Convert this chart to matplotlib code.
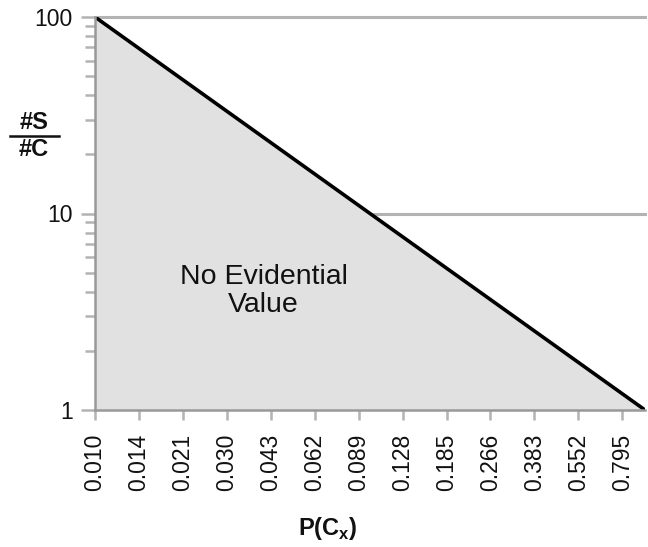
import matplotlib
matplotlib.use("Agg")
import matplotlib.pyplot as plt
from matplotlib.lines import Line2D

plt.rcParams['font.family'] = ['Liberation Sans', 'DejaVu Sans']
plt.rcParams['mathtext.fontset'] = 'custom'
plt.rcParams['mathtext.rm'] = 'Liberation Sans'
plt.rcParams['mathtext.bf'] = 'Liberation Sans:bold'

# Data
tick_values = [0.010, 0.0144, 0.0207, 0.0299, 0.0430, 0.0619, 0.0892,
               0.1284, 0.1849, 0.2662, 0.3834, 0.5521, 0.7950]
tick_labels = ["0.010", "0.014", "0.021", "0.030", "0.043", "0.062", "0.089",
               "0.128", "0.185", "0.266", "0.383", "0.552", "0.795"]
line_x = [0.010, 0.96]
line_y = [100, 1]
y_ticks = [1, 10, 100]
y_tick_labels = ["1", "10", "100"]

W, H = 648, 547
fig = plt.figure(figsize=(W / 100, H / 100), dpi=100)
ax = fig.add_axes([95 / W, 1 - 410 / H, 550 / W, 393 / H])

ax.set_xscale('log')
ax.set_yscale('log')
ax.set_xlim(line_x[0], line_x[-1])
ax.set_ylim(1, 100)

grid_c = '#b3b3b3'
spine_c = '#999999'
for yv in y_ticks[1:]:
    ax.axhline(yv, color=grid_c, lw=2.2, zorder=1, clip_on=False)

ax.fill_between(line_x, line_y, 1, color='#e1e1e1', zorder=2, lw=0)
ax.plot(line_x, line_y, color='black', lw=2.6, zorder=3, solid_capstyle='butt')

for s in ['top', 'right']:
    ax.spines[s].set_visible(False)
for s in ['left', 'bottom']:
    ax.spines[s].set_color(spine_c)
    ax.spines[s].set_linewidth(1.8)
    ax.spines[s].set_zorder(4)

ax.set_xticks(tick_values)
ax.set_xticklabels(tick_labels, rotation=90, fontsize=16.5)
ax.xaxis.set_minor_locator(matplotlib.ticker.NullLocator())
ax.tick_params(axis='x', which='major', length=7, width=1.8, color='#b3b3b3',
               pad=10, labelcolor='#111111')

ax.set_yticks(y_ticks)
ax.set_yticklabels(y_tick_labels, fontsize=16.5)
ax.yaxis.set_minor_locator(matplotlib.ticker.LogLocator(base=10, subs=range(2, 10)))
ax.yaxis.set_minor_formatter(matplotlib.ticker.NullFormatter())
ax.tick_params(axis='y', which='major', length=10, width=1.8, color='#b3b3b3',
               pad=6, labelcolor='#111111')
ax.tick_params(axis='y', which='minor', length=7, width=1.8, color='#b3b3b3')

ax.text((263.5 - 95) / 550, (410 - 291) / 393, "No Evidential\nValue",
        transform=ax.transAxes, ha='center', va='center', fontsize=20.5,
        multialignment='center', linespacing=1.05, color='#111111', zorder=5)

# y label as a fraction
fig.text(34 / W, 1 - 123 / H, "#S", ha='center', va='center', fontsize=17,
         fontweight='bold', color='#111111')
fig.text(34 / W, 1 - 150 / H, "#C", ha='center', va='center', fontsize=17,
         fontweight='bold', color='#111111')
fig.add_artist(Line2D([10 / W, 59 / W], [1 - 136 / H, 1 - 136 / H],
                      transform=fig.transFigure, color='#111111', lw=1.8))

fig.text(327.5 / W, 1 - 529 / H, r"P(C$_\mathbf{x}$)", ha='center', va='center',
         fontsize=17, fontweight='bold', color='#111111')

fig.savefig("out.png", dpi=100)
